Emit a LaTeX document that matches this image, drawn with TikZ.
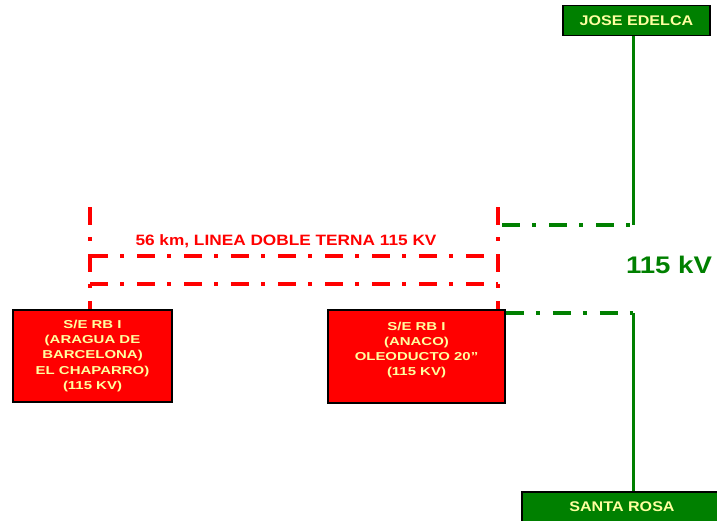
\documentclass[tikz,border=0pt]{standalone}
\usepackage{fontspec}
\setmainfont{Liberation Sans}
\newfontfamily\widesans[FakeStretch=1.3]{Liberation Sans}
\newfontfamily\titlesans[FakeStretch=1.15]{Liberation Sans}
\usetikzlibrary{positioning}
\definecolor{sub red}{RGB}{255,0,0}
\definecolor{sub green}{RGB}{0,128,0}
\definecolor{sub yellow}{RGB}{255,255,160}
\tikzset{
    % Stations
    station/.style={draw=black,line width=1.5pt,inner sep=0pt,align=center,text=sub yellow,
        font={\widesans\bfseries\fontsize{11.5}{15.3}\selectfont}},
    red station/.style={station,fill=sub red},
    green station/.style={station,fill=sub green,font={\titlesans\bfseries\fontsize{14}{15}\selectfont}},
    %
    % Lines
    red line/.style={sub red,line width=4pt,dash pattern=on 18pt off 12pt on 4pt off 13pt},
    green line/.style={sub green,line width=4pt,dash pattern=on 18pt off 12pt on 4pt off 13pt},
    feeder/.style={sub green,line width=3pt},
    %
    % Labels
    red label/.style={sub red,font={\titlesans\bfseries\fontsize{15}{17}\selectfont}},
    bus label/.style={sub green,font={\titlesans\bfseries\fontsize{24}{26}\selectfont}}
}

\begin{document}
\begin{tikzpicture}[x=1pt,y=-1pt]
    \useasboundingbox (0,0) rectangle (717,520);

    % Substations
    \node[green station,minimum width=147pt,minimum height=30pt] (edelca) at (636.5,20.5) {JOSE EDELCA};
    \node[green station,minimum width=200pt,minimum height=30pt] (santarosa) at (622,507) {SANTA ROSA};
    \node[red station,minimum width=159pt,minimum height=92pt] (barcelona) at (92.5,356) {S/E RB I\\(ARAGUA DE\\BARCELONA)\\EL CHAPARRO)\\(115 KV)};
    \node[red station,minimum width=177pt,minimum height=93pt] (anaco) at (416.5,356.5) {S/E RB I\\(ANACO)\\OLEODUCTO 20”\\(115 KV)\\\mbox{}};

    % Double circuit line
    \coordinate (west end) at (90,207);
    \coordinate (east end) at (498,207);
    \draw[red line] (west end) -- (west end |- barcelona.north);
    \draw[red line] (east end) -- (east end |- anaco.north);
    \draw[red line] (90,256) -- (498,256);
    \draw[red line] (90,284) -- (498,284);
    \node[red label] (line label) at (286,241) {56 km, LINEA DOBLE TERNA 115 KV};

    % 115 kV bus
    \coordinate (north tap) at (633,225);
    \coordinate (south tap) at (633,313);
    \draw[feeder] (north tap |- edelca.south) -- (north tap);
    \draw[green line] (502,225) -- (north tap);
    \draw[green line] (anaco.east |- south tap) -- (south tap);
    \draw[feeder] (south tap) -- (south tap |- santarosa.north);
    \node[bus label] (bus) at (669,265) {115 kV};
\end{tikzpicture}
\end{document}
